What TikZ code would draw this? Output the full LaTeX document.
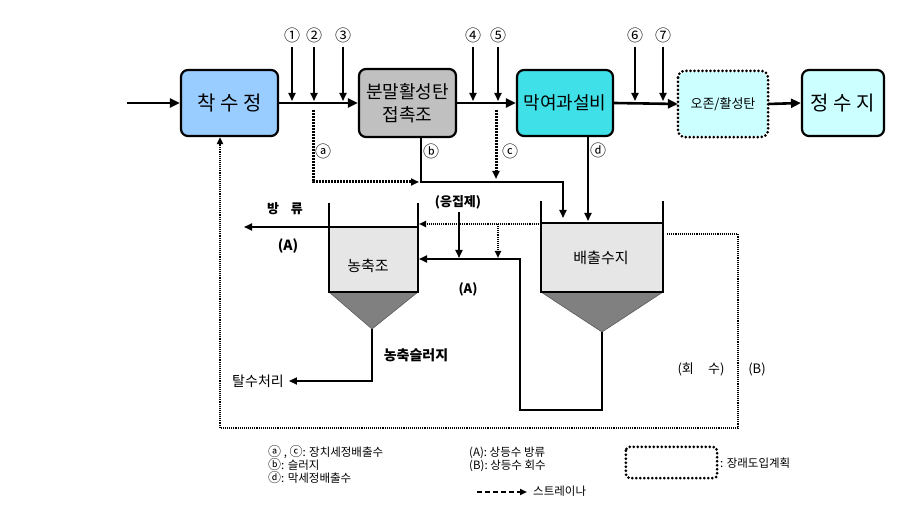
\documentclass[tikz,border=0pt]{standalone}
\usepackage{fontspec}
\setmainfont{Noto Sans CJK KR}
\usetikzlibrary{arrows.meta}
\definecolor{cblue}{HTML}{99CCFF}
\definecolor{cgray}{HTML}{C0C0C0}
\definecolor{ccyan}{HTML}{40E0E8}
\definecolor{clight}{HTML}{CCFFFF}
\definecolor{ctank}{HTML}{E6E6E6}
\definecolor{ccone}{HTML}{808080}
\newcommand{\circsz}{\fontsize{16}{16}\selectfont}
\newcommand{\legcirc}{\fontsize{13}{13}\selectfont}
\begin{document}
\begin{tikzpicture}[x=1pt,y=-1pt,
  box/.style={draw, line width=2.2pt, rounded corners=7pt, minimum height=66pt, inner sep=0pt, align=center},
  dotbox/.style={line width=3pt, line cap=round, dash pattern=on 0pt off 4pt},
  flow/.style={line width=2.6pt, -{Triangle[length=10pt,width=9pt]}},
  feed/.style={line width=1.8pt, -{Triangle[length=8pt,width=7pt]}},
  pipe/.style={line width=1.8pt},
  pipearr/.style={line width=1.8pt, -{Triangle[length=8pt,width=7pt]}},
  dotthick/.style={line width=3pt, dash pattern=on 1.6pt off 1.4pt, -{Triangle[length=8pt,width=7pt]}},
  dotthin/.style={line width=2pt, dash pattern=on 1.1pt off 1pt},
  tank/.style={line width=1.8pt},
  lbl/.style={inner sep=0pt, font=\circsz},
  blbl/.style={inner sep=0pt, font=\fontsize{13}{15}\selectfont\bfseries},
  leg/.style={inner sep=0pt, anchor=west, font=\fontsize{11.5}{12}\selectfont, text height=9pt, text depth=2pt}
]
\useasboundingbox (0,0) rectangle (918,510);

% ---- top row
\node[box, fill=cblue, minimum width=97pt] (chak) at (229.5,103) {\fontsize{20}{22}\selectfont 착 수 정};
\node[box, fill=cgray, minimum width=97pt, minimum height=68pt, font=\fontsize{18}{23}\selectfont] (bun) at (407.5,103) {분말활성탄\\접촉조};
\node[box, fill=ccyan, minimum width=96pt] (mak) at (565,103) {\fontsize{18}{20}\selectfont 막여과설비};
\node[box, draw=none, fill=clight, minimum width=88pt, minimum height=64pt] (ozone) at (723,104) {\fontsize{13}{15}\selectfont 오존/활성탄};
\draw[dotbox, rounded corners=7pt] (ozone.north west) rectangle (ozone.south east);
\node[box, fill=clight, minimum width=82pt] (jung) at (843,103) {\fontsize{20}{22}\selectfont 정 수 지};

\coordinate (in) at (127,103);
\draw[flow] (in) -- (chak.west);
\draw[flow] (chak.east) -- (bun.west);
\draw[flow] (bun.east) -- (mak.west);
\draw[flow] (mak.east) -- (ozone.west);
\draw[flow] (ozone.east) -- (jung.west);

\foreach \x/\l [count=\i] in {292/①,314/②,343/③,473/④,498/⑤,635/⑥,663/⑦}{
  \node[lbl] (num\i) at (\x,35) {\l};
  \coordinate (ft\i) at (\x,47);
  \coordinate (fb\i) at (\x,101);
  \draw[feed] (ft\i) -- (fb\i);
}

% ---- tanks
% thickener
\fill[ctank] (329,227) rectangle (418,292);
\fill[ccone, draw=ccone!70!black, line width=0.6pt] (329,292) -- (418,292) -- (372,329) -- cycle;
\draw[tank] (329,203) -- (329,292) -- (418,292) -- (418,203);
\draw[tank] (329,227) -- (418,227);
\node[inner sep=0pt, font=\fontsize{15}{17}\selectfont] (nong) at (368,266) {농축조};
% discharge tank
\fill[ctank] (541,223) rectangle (663,292);
\fill[ccone, draw=ccone!70!black, line width=0.6pt] (541,292) -- (663,292) -- (602,332) -- cycle;
\draw[tank] (541,201) -- (541,292) -- (663,292) -- (663,201);
\draw[tank] (541,223) -- (663,223);
\node[inner sep=0pt, font=\fontsize{15}{17}\selectfont] (bae) at (601,258) {배출수지};

% ---- drains from top row
\coordinate (bx) at (421,182);
\coordinate (ex) at (563,218);
\draw[pipearr] (bun.south -| bx) -- (bx) -| (ex);
\coordinate (dx) at (588,221);
\draw[pipearr] (mak.south -| dx) -- (dx);
\coordinate (a0) at (313,110);
\coordinate (a1) at (419,182);
\draw[dotthick] (a0) |- (a1);
\coordinate (c0) at (496,110);
\coordinate (c1) at (496,179);
\draw[dotthick] (c0) -- (c1);
\node[lbl] (la) at (323,151) {ⓐ};
\node[lbl] (lb) at (431,151) {ⓑ};
\node[lbl] (lc) at (510,151) {ⓒ};
\node[lbl] (ld) at (598,150) {ⓓ};

% ---- between tanks
\coordinate (s1) at (541,224);
\coordinate (s2) at (419,224);
\draw[dotthin, -{Triangle[length=7pt,width=6pt]}] (s1) -- (s2);
\coordinate (s3) at (498,224);
\coordinate (s4) at (498,258);
\draw[dotthin, -{Triangle[length=7pt,width=6pt]}] (s3) -- (s4);
\coordinate (tip2) at (602,332);
\coordinate (r1) at (602,410);
\coordinate (r2) at (520,410);
\coordinate (r3) at (520,259);
\coordinate (r4) at (419,259);
\draw[pipearr] (tip2) -- (r1) -- (r2) -- (r3) -- (r4);
\node[blbl] (ung) at (458,202) {(응집제)};
\coordinate (u1) at (459,258);
\draw[pipearr] (ung.south -| u1) ++(0,3) -- (u1);
\node[blbl] (A2) at (468,289) {(A)};

% overflow
\coordinate (o1) at (329,227);
\coordinate (o2) at (244,227);
\draw[pipearr] (o1) -- (o2);
\node[blbl] (bang) at (285,209) {방\hspace{0.9em}류};
\node[blbl, font=\fontsize{14}{16}\selectfont\bfseries] (A1) at (288,246) {(A)};

% sludge
\coordinate (tip1) at (372,329);
\node[inner sep=0pt, font=\fontsize{14}{16}\selectfont] (tal) at (258,381) {탈수처리};
\draw[pipearr] (tip1) |- ([xshift=5pt]tal.east);
\node[blbl, font=\fontsize{14}{16}\selectfont\bfseries] (nsl) at (416,355) {농축슬러지};

% return loop
\coordinate (q1) at (667,234);
\coordinate (q2) at (738,234);
\coordinate (q3) at (738,428);
\coordinate (q4) at (220,428);
\draw[dotthin, -{Triangle[length=7pt,width=6pt]}] (q1) -- (q2) -- (q3) -- (q4) -- (chak.south -| q4);
\node[lbl, font=\fontsize{13}{15}\selectfont] (hoe) at (701,369) {(회\hspace{1.1em}수)};
\node[lbl, font=\fontsize{13}{15}\selectfont] (B) at (757,369) {(B)};

% ---- legend
\node[leg] (l1) at (268,453) {{\legcirc ⓐ} , {\legcirc ⓒ}: 장치세정배출수};
\node[leg] (l2) at (268,466) {{\legcirc ⓑ}: 슬러지};
\node[leg] (l3) at (268,479) {{\legcirc ⓓ}: 막세정배출수};
\node[leg] (l4) at (469,453) {(A): 상등수 방류};
\node[leg] (l5) at (469,466) {(B): 상등수 회수};
\coordinate (d1) at (477,492);
\node[leg] (l6) at (533,492) {스트레이나};
\draw[line width=2pt, dash pattern=on 5pt off 3pt, -{Triangle[length=7pt,width=6pt]}] (d1) -- ([xshift=-6pt]l6.west);
\node[minimum width=91pt, minimum height=31pt, inner sep=0pt] (lbox) at (671.5,462.5) {};
\draw[dotbox, rounded corners=4pt] (lbox.north west) rectangle (lbox.south east);
\node[leg] (l7) at (720,464) {: 장래도입계획};
\end{tikzpicture}
\end{document}
